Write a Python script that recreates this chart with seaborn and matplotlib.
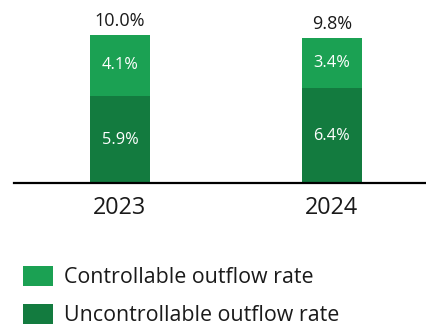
import matplotlib
matplotlib.use("Agg")
import matplotlib.pyplot as plt
from matplotlib.patches import Patch
import seaborn as sns
import pandas as pd

years = ["2023", "2024"]
controllable = [4.1, 3.4]
uncontrollable = [5.9, 6.4]
totals = [10.0, 9.8]
series_names = ["Controllable outflow rate", "Uncontrollable outflow rate"]

light_green = "#1BA153"
dark_green = "#137B3F"
text_color = "#1a1a1a"

sns.set_style("white")
plt.rcParams["font.family"] = ["Open Sans", "DejaVu Sans"]

df = pd.DataFrame({
    "year": years,
    "controllable": controllable,
    "uncontrollable": uncontrollable,
    "total": totals,
})

fig = plt.figure(figsize=(4.26, 3.29), dpi=100)
ax = fig.add_axes([14 / 426, (329 - 183.3) / 329, (426 - 14) / 426, 183.3 / 329])

bar_w = 60 / 212
# stacked bars: full height in light green, lower segment in dark green on top
sns.barplot(data=df, x="year", y="total", color=light_green, width=bar_w,
            saturation=1, ax=ax, edgecolor="none", linewidth=0)
sns.barplot(data=df, x="year", y="uncontrollable", color=dark_green, width=bar_w,
            saturation=1, ax=ax, edgecolor="none", linewidth=0)

ax.set_xlim(-0.5, 1 + 94 / 212)
ax.set_ylim(0, 183.3 / 14.83)

for i in range(len(years)):
    ax.annotate(f"{totals[i]:.1f}%", (i, totals[i]), xytext=(0, 6.6),
                textcoords="offset points", ha="center", va="baseline",
                fontsize=13, color=text_color)
    ax.text(i, uncontrollable[i] + controllable[i] / 2, f"{controllable[i]:.1f}%",
            ha="center", va="center", fontsize=11.8, color="white")
    ax.text(i, uncontrollable[i] / 2, f"{uncontrollable[i]:.1f}%",
            ha="center", va="center", fontsize=11.8, color="white")

for side in ["top", "right", "left"]:
    ax.spines[side].set_visible(False)
ax.spines["bottom"].set_color("black")
ax.spines["bottom"].set_linewidth(1.6)
ax.set_yticks([])
ax.set_xlabel("")
ax.set_ylabel("")
ax.tick_params(axis="x", length=0, pad=9, labelsize=16.8, labelcolor=text_color)

handles = [Patch(facecolor=light_green, edgecolor="none"),
           Patch(facecolor=dark_green, edgecolor="none")]
fig.legend(handles, series_names, loc="upper left",
           bbox_to_anchor=(22.7 / 426, 1 - 266 / 329), frameon=False,
           fontsize=15.4, handlelength=1.4, handleheight=1.05,
           handletextpad=0.55, labelspacing=0.75, borderpad=0,
           borderaxespad=0, labelcolor=text_color)

fig.savefig("out.png", dpi=100)
